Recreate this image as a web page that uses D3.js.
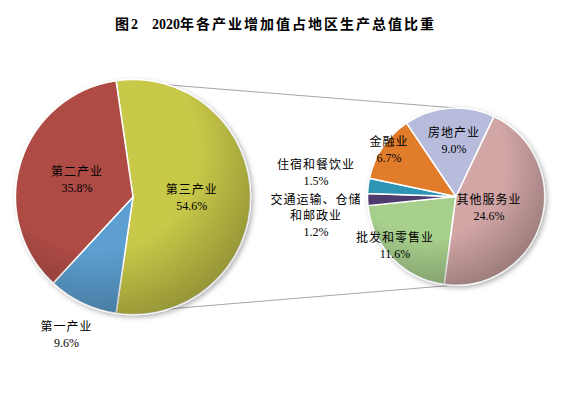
<!DOCTYPE html>
<html>
<head>
<meta charset="utf-8">
<script src="https://cdn.jsdelivr.net/npm/d3@7"></script>
<style>
  html, body { margin: 0; padding: 0; background: #fff; }
  svg { display: block; }
  text { font-family: "Liberation Serif", "Noto Sans CJK SC", serif; }
</style>
</head>
<body>
<div id="chart"></div>
<script>
// 三次产业（左饼）
const industryNames = ['第三产业', '第一产业', '第二产业'];
const industryValues = [54.6, 9.6, 35.8];
const industryColors = ['#c8c84a', '#5b9fd0', '#ae4b45'];

// 第三产业细分（右饼）
const serviceNames = ['批发和零售业', '交通运输、仓储|和邮政业', '住宿和餐饮业', '金融业', '房地产业', '其他服务业'];
const serviceValues = [11.6, 1.2, 1.5, 6.7, 9.0, 24.6];
const serviceColors = ['#a8d08d', '#4e3b6e', '#2e95b5', '#e07b29', '#b8bcdc', '#d3a6a6'];

// title pieces: [text, isCJK]
const titleParts = [['图', true], ['2', false], ['\u00a0\u00a0\u00a0\u00a0', false], ['2020', false], ['年各产业增加值占地区生产总值比重', true]];

const W = 562, H = 398;
const deg = Math.PI / 180;

const svg = d3.select('#chart').append('svg')
  .attr('width', W)
  .attr('height', H);

const defs = svg.append('defs');
const shadow = defs.append('filter').attr('id', 'shadow')
  .attr('x', '-20%').attr('y', '-20%').attr('width', '140%').attr('height', '140%');
shadow.append('feDropShadow')
  .attr('dx', 2).attr('dy', 2).attr('stdDeviation', 2.5)
  .attr('flood-color', '#000').attr('flood-opacity', 0.3);

const shade = defs.append('radialGradient').attr('id', 'shade')
  .attr('cx', 0.35).attr('cy', 0.3).attr('r', 0.78);
shade.append('stop').attr('offset', '0.55').attr('stop-color', '#000').attr('stop-opacity', 0);
shade.append('stop').attr('offset', '1').attr('stop-color', '#000').attr('stop-opacity', 0.28);

const titleText = svg.append('text')
  .attr('x', 115)
  .attr('y', 29)
  .attr('font-size', '14px')
  .attr('font-weight', 'bold')
  .attr('fill', '#000');
titleText.selectAll('tspan')
  .data(titleParts)
  .enter()
  .append('tspan')
  .attr('letter-spacing', d => d[1] ? '2px' : '0px')
  .text(d => d[0]);

// pie geometry
const left = { cx: 133, cy: 197, r: 117.5 };
const right = { cx: 456, cy: 196.5, r: 88.5 };

const thirdSpan = industryValues[0] / d3.sum(industryValues) * 360;
const leftStart = (90 - thirdSpan / 2) * deg;

const leftPie = d3.pie().sort(null)
  .startAngle(leftStart)
  .endAngle(leftStart + 2 * Math.PI);
const leftArcs = leftPie(industryValues);

const serviceTotal = d3.sum(serviceValues);
const otherStartDeg = 25.4;
const rightStart = (otherStartDeg - (serviceTotal - serviceValues[5]) / serviceTotal * 360) * deg;
const rightPie = d3.pie().sort(null)
  .startAngle(rightStart)
  .endAngle(rightStart + 2 * Math.PI);
const rightArcs = rightPie(serviceValues);

const polar = (c, a, rad) => [c.cx + rad * Math.sin(a), c.cy - rad * Math.cos(a)];

// connector lines (behind pies)
const third = leftArcs[0];
const p1 = polar(left, third.startAngle, left.r);
const p2 = polar(left, third.endAngle, left.r);
const connectors = [
  [p1, polar(right, 0, right.r)],
  [p2, polar(right, Math.PI, right.r)]
];
svg.append('g').attr('class', 'connectors')
  .selectAll('line')
  .data(connectors)
  .enter()
  .append('line')
  .attr('x1', d => d[0][0]).attr('y1', d => d[0][1])
  .attr('x2', d => d[1][0]).attr('y2', d => d[1][1])
  .attr('stroke', '#a6a6a6')
  .attr('stroke-width', 1);

function drawPie(c, arcs, colors, cls) {
  const arc = d3.arc().innerRadius(0).outerRadius(c.r);
  const g = svg.append('g')
    .attr('class', cls)
    .attr('transform', `translate(${c.cx},${c.cy})`);
  const body = g.append('g').attr('filter', 'url(#shadow)');
  body.selectAll('path')
    .data(arcs)
    .enter()
    .append('path')
    .attr('d', arc)
    .attr('fill', (d, i) => colors[i])
    .attr('stroke', '#fff')
    .attr('stroke-width', 1.5)
    .attr('stroke-linejoin', 'round');
  g.append('circle')
    .attr('r', c.r)
    .attr('fill', 'url(#shade)')
    .attr('pointer-events', 'none');
  return arc;
}

const leftArc = drawPie(left, leftArcs, industryColors, 'pie-left');
drawPie(right, rightArcs, serviceColors, 'pie-right');

// label placement, offsets from pie center
const labelOffset = {
  '第一产业': [-66.5, 137],
  '房地产业': [-2, -56],
  '金融业': [-67, -47.5],
  '住宿和餐饮业': [-140, -24],
  '交通运输、仓储|和邮政业': [-140, 19],
  '批发和零售业': [-61, 49],
  '其他服务业': [33, 11]
};

function drawLabels(c, arcs, names, values, arc) {
  const g = svg.append('g').attr('class', 'labels');
  arcs.forEach((d, i) => {
    const name = names[i];
    const pos = labelOffset[name]
      ? [c.cx + labelOffset[name][0], c.cy + labelOffset[name][1]]
      : [c.cx + arc.centroid(d)[0], c.cy + arc.centroid(d)[1]];
    const lines = name.split('|').concat([d3.format('.1f')(values[i]) + '%']);
    const lh = 16;
    const y0 = pos[1] - (lines.length - 1) * lh / 2 + 4.5;
    const t = g.append('text')
      .attr('text-anchor', 'middle')
      .attr('font-size', '12px')
      .attr('fill', '#000');
    lines.forEach((s, j) => {
      t.append('tspan')
        .attr('x', pos[0])
        .attr('y', y0 + j * lh)
        .attr('letter-spacing', j < lines.length - 1 ? '1px' : '0px')
        .text(s);
    });
  });
}

drawLabels(left, leftArcs, industryNames, industryValues, leftArc);
drawLabels(right, rightArcs, serviceNames, serviceValues, null);
</script>
</body>
</html>
